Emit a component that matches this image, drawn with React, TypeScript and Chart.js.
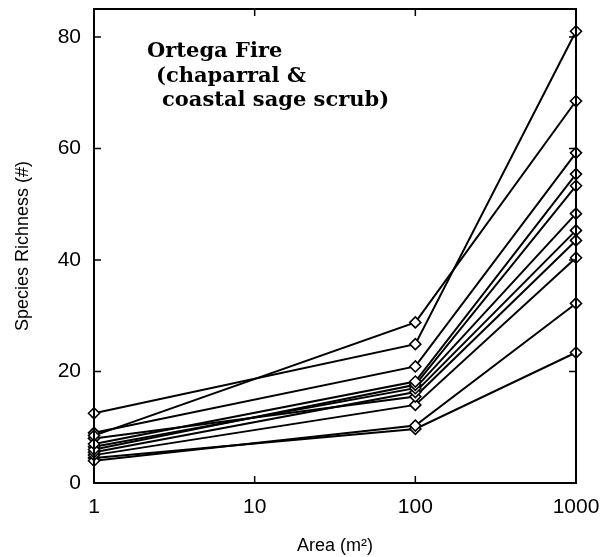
import React, { useEffect, useRef } from "react";
import { Chart, registerables } from "chart.js";

Chart.register(...registerables);

const areas = [1, 100, 1000];
const richAt1 = [8.5, 12.5, 9.0, 7.0, 6.0, 6.5, 5.5, 8.0, 5.0, 4.0, 4.5];
const richAt100 = [28.8, 24.9, 20.9, 18.2, 17.6, 17.0, 16.3, 15.5, 14.0, 10.3, 9.7];
const richAt1000 = [68.5, 81.0, 59.2, 55.4, 53.3, 48.3, 45.3, 43.5, 40.4, 32.2, 23.4];
const xTickLabels = [1, 10, 100, 1000];
const yTickValues = [0, 20, 40, 60, 80];
const titleLines = ["Ortega Fire", "(chaparral &", "coastal sage scrub)"];
const titleIndent = [53, 62, 68];

const frame = {
  id: "frame",
  afterDatasetsDraw(chart: any) {
    const { ctx, chartArea: a, scales } = chart;
    ctx.save();
    ctx.strokeStyle = "#000";
    ctx.lineWidth = 2;
    ctx.strokeRect(a.left, a.top, a.right - a.left, a.bottom - a.top);
    ctx.lineWidth = 1.5;
    const tl = 7;
    for (const v of yTickValues) {
      const y = scales.y.getPixelForValue(v);
      ctx.beginPath();
      ctx.moveTo(a.left, y);
      ctx.lineTo(a.left + tl, y);
      ctx.moveTo(a.right, y);
      ctx.lineTo(a.right - tl, y);
      ctx.stroke();
    }
    for (const v of xTickLabels) {
      const x = scales.x.getPixelForValue(v);
      ctx.beginPath();
      ctx.moveTo(x, a.bottom);
      ctx.lineTo(x, a.bottom - tl);
      ctx.moveTo(x, a.top);
      ctx.lineTo(x, a.top + tl);
      ctx.stroke();
    }
    ctx.fillStyle = "#000";
    ctx.font = "bold 21px 'DejaVu Serif', serif";
    ctx.textBaseline = "alphabetic";
    titleLines.forEach((t, i) => {
      ctx.fillText(t, a.left + titleIndent[i], a.top + 48 + i * 24.5);
    });
    ctx.restore();
  },
};

export default function App() {
  const ref = useRef<HTMLCanvasElement>(null);
  useEffect(() => {
    const datasets = richAt1.map((_, i) => ({
      data: [
        { x: areas[0], y: richAt1[i] },
        { x: areas[1], y: richAt100[i] },
        { x: areas[2], y: richAt1000[i] },
      ],
      borderColor: "#000",
      borderWidth: 2,
      pointStyle: "rectRot",
      pointRadius: 5.5,
      pointBorderWidth: 1.6,
      pointBackgroundColor: "#fff",
      pointBorderColor: "#000",
      fill: false,
      tension: 0,
      clip: false as any,
    }));
    const chart = new Chart(ref.current!, {
      type: "line",
      data: { datasets },
      options: {
        animation: false,
        responsive: false,
        layout: { padding: { top: 9, right: 24, left: 0, bottom: 0 } },
        plugins: { legend: { display: false }, tooltip: { enabled: false } },
        scales: {
          x: {
            type: "logarithmic",
            min: 1,
            max: 1000,
            grid: { display: false, drawTicks: false },
            border: { display: false },
            afterBuildTicks(scale: any) {
              scale.ticks = xTickLabels.map((v) => ({ value: v }));
            },
            afterFit(scale: any) {
              scale.height = 74;
              scale.paddingLeft = 0;
              scale.paddingRight = 0;
            },
            ticks: {
              autoSkip: false,
              maxRotation: 0,
              padding: 12,
              color: "#000",
              font: { family: "'Liberation Sans', Arial, sans-serif", size: 21 },
              callback: (v: any) => String(v),
            },
            title: {
              display: true,
              text: "Area (m²)",
              color: "#000",
              font: { family: "'Liberation Sans', Arial, sans-serif", size: 18 },
              padding: { top: 16, bottom: 0 },
            },
          },
          y: {
            type: "linear",
            min: 0,
            max: 85,
            grid: { display: false, drawTicks: false },
            border: { display: false },
            afterBuildTicks(scale: any) {
              scale.ticks = yTickValues.map((v) => ({ value: v }));
            },
            afterFit(scale: any) {
              scale.width = 94;
              scale.paddingTop = 0;
              scale.paddingBottom = 0;
            },
            ticks: {
              padding: 13,
              color: "#000",
              font: { family: "'Liberation Sans', Arial, sans-serif", size: 21 },
            },
            title: {
              display: true,
              text: "Species Richness (#)",
              color: "#000",
              font: { family: "'Liberation Sans', Arial, sans-serif", size: 18 },
              padding: { top: 12, bottom: 0 },
            },
          },
        },
      },
      plugins: [frame],
    });
    return () => chart.destroy();
  }, []);
  return (
    <div style={{ position: "fixed", left: 0, top: 0, width: 600, height: 557, background: "#fff" }}>
      <canvas ref={ref} width={600} height={557} />
    </div>
  );
}
